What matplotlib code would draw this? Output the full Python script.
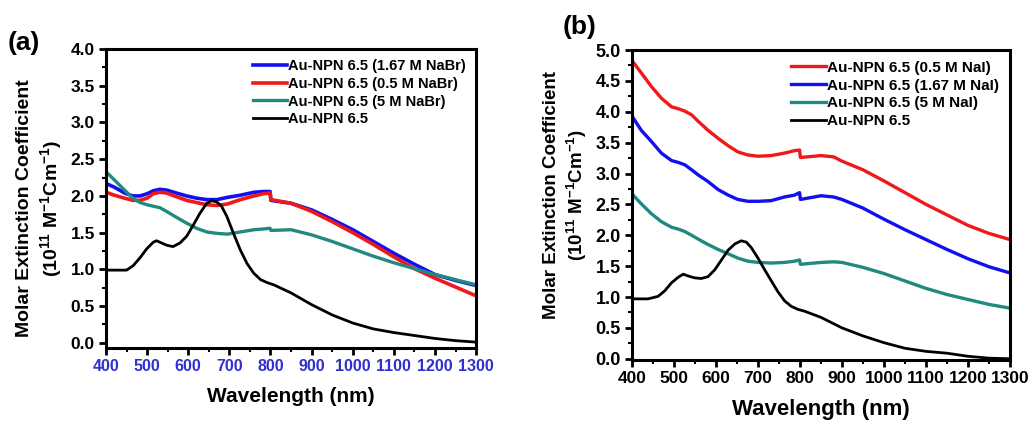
import matplotlib
matplotlib.use("Agg")
import matplotlib.pyplot as plt
from matplotlib.ticker import MultipleLocator

plt.rcParams['font.family'] = ['Liberation Sans', 'DejaVu Sans']
plt.rcParams['font.weight'] = 'bold'
plt.rcParams['axes.labelweight'] = 'bold'
plt.rcParams['mathtext.fontset'] = 'custom'
plt.rcParams['mathtext.bf'] = 'Liberation Sans:bold'
plt.rcParams['mathtext.rm'] = 'Liberation Sans:bold'
plt.rcParams['mathtext.default'] = 'bf'

# ---- panel (a): NaBr ----
wl_a = [400, 420, 445, 465, 483, 500, 515, 531, 547, 571, 596, 620, 645, 670, 695, 727, 760,
        783, 799, 801, 850, 900, 950, 1000, 1050, 1100, 1150, 1200, 1250, 1300]
a_blue = [2.17, 2.12, 2.04, 2.00, 2.00, 2.03, 2.07, 2.09, 2.08, 2.04, 2.00, 1.97, 1.95, 1.95,
          1.98, 2.01, 2.05, 2.06, 2.06, 1.94, 1.90, 1.81, 1.68, 1.54, 1.38, 1.22, 1.07, 0.93,
          0.85, 0.78]
a_red = [2.05, 2.01, 1.97, 1.94, 1.94, 1.97, 2.03, 2.05, 2.04, 1.99, 1.94, 1.91, 1.88, 1.87,
         1.89, 1.95, 2.00, 2.03, 2.04, 1.95, 1.90, 1.79, 1.65, 1.50, 1.34, 1.17, 1.01, 0.88,
         0.76, 0.64]
a_teal = [2.33, 2.22, 2.08, 1.97, 1.91, 1.88, 1.86, 1.84, 1.79, 1.71, 1.63, 1.56, 1.51, 1.49,
          1.48, 1.51, 1.54, 1.55, 1.56, 1.53, 1.54, 1.47, 1.38, 1.28, 1.18, 1.09, 1.01, 0.93,
          0.86, 0.79]

wl_a_blk = [400, 450, 466, 483, 499, 515, 523, 535, 547, 563, 580, 596, 612, 628, 645, 657, 669,
            681, 694, 710, 727, 743, 759, 776, 792, 808, 850, 900, 950, 1000, 1050, 1100, 1150,
            1200, 1250, 1300]
a_black = [0.99, 0.99, 1.05, 1.16, 1.28, 1.37, 1.39, 1.36, 1.33, 1.31, 1.36, 1.45, 1.60, 1.76,
           1.90, 1.935, 1.92, 1.86, 1.72, 1.49, 1.26, 1.08, 0.95, 0.86, 0.82, 0.79, 0.68, 0.52,
           0.38, 0.27, 0.19, 0.14, 0.10, 0.06, 0.03, 0.01]

# ---- panel (b): NaI ----
wl_b = [400, 422, 446, 470, 494, 510, 526, 542, 557, 581, 605, 629, 652, 676, 700, 731, 763,
        787, 799, 801, 850, 880, 900, 950, 1000, 1050, 1100, 1150, 1200, 1250, 1300]
b_red = [4.83, 4.63, 4.41, 4.22, 4.08, 4.05, 4.01, 3.95, 3.85, 3.70, 3.57, 3.45, 3.35, 3.30,
         3.28, 3.29, 3.33, 3.37, 3.38, 3.26, 3.29, 3.27, 3.20, 3.06, 2.88, 2.69, 2.50, 2.33,
         2.16, 2.03, 1.93]
b_blue = [3.93, 3.70, 3.52, 3.33, 3.21, 3.18, 3.14, 3.06, 2.98, 2.87, 2.74, 2.65, 2.58, 2.55,
          2.55, 2.56, 2.62, 2.65, 2.69, 2.58, 2.64, 2.62, 2.58, 2.44, 2.26, 2.09, 1.93, 1.77,
          1.62, 1.49, 1.39]
b_teal = [2.67, 2.51, 2.35, 2.22, 2.13, 2.10, 2.06, 2.00, 1.94, 1.85, 1.77, 1.70, 1.63, 1.58,
          1.56, 1.55, 1.56, 1.58, 1.60, 1.53, 1.56, 1.57, 1.56, 1.48, 1.38, 1.26, 1.14, 1.04,
          0.96, 0.88, 0.82]

wl_b_blk = [400, 438, 462, 478, 494, 510, 522, 534, 549, 565, 581, 597, 613, 629, 645, 660, 672,
            684, 700, 716, 731, 747, 763, 779, 795, 811, 850, 900, 950, 1000, 1050, 1100, 1150,
            1200, 1250, 1300]
b_black = [0.97, 0.97, 1.01, 1.10, 1.23, 1.32, 1.37, 1.34, 1.31, 1.30, 1.33, 1.44, 1.60, 1.76,
           1.86, 1.91, 1.89, 1.80, 1.63, 1.44, 1.27, 1.09, 0.94, 0.85, 0.80, 0.77, 0.67, 0.50,
           0.37, 0.26, 0.17, 0.12, 0.09, 0.04, 0.01, 0.00]

BLUE = '#1010f0'
RED = '#f01818'
TEAL = '#218a80'

fig = plt.figure(figsize=(10.31, 4.21), dpi=100)
ax1 = fig.add_axes([0.1028, 0.1734, 0.359, 0.7102])
ax2 = fig.add_axes([0.613, 0.1449, 0.3666, 0.7363])


def style(ax, ymax, ymin, xcolor, fs_x, fs_y, fs_xlabel):
    ax.set_xlim(400, 1300)
    ax.set_ylim(ymin, ymax)
    ax.xaxis.set_major_locator(MultipleLocator(100))
    ax.xaxis.set_minor_locator(MultipleLocator(50))
    ax.yaxis.set_major_locator(MultipleLocator(0.5))
    ax.yaxis.set_minor_locator(MultipleLocator(0.25))
    ax.tick_params(which='major', direction='out', length=5, width=2, pad=3)
    ax.tick_params(which='minor', direction='out', length=3, width=1.5)
    ax.tick_params(axis='x', labelcolor=xcolor, labelsize=fs_x)
    ax.tick_params(axis='y', labelsize=fs_y)
    ax.tick_params(top=False, right=False, which='both')
    for s in ax.spines.values():
        s.set_linewidth(2.2)
    ax.yaxis.set_major_formatter(plt.FuncFormatter(lambda v, p: f"{v:.1f}"))
    ax.set_xlabel('Wavelength (nm)', fontsize=fs_xlabel, labelpad=9)


ax1.plot(wl_a, a_blue, color=BLUE, lw=2.6, label='Au-NPN 6.5 (1.67 M NaBr)')
ax1.plot(wl_a, a_red, color=RED, lw=2.6, label='Au-NPN 6.5 (0.5 M NaBr)')
ax1.plot(wl_a, a_teal, color=TEAL, lw=2.4, label='Au-NPN 6.5 (5 M NaBr)')
ax1.plot(wl_a_blk, a_black, color='black', lw=2.0, label='Au-NPN 6.5')
style(ax1, 4.0, -0.07, '#3030d0', 11.5, 12.5, 15)
ax1.legend(loc='upper right', bbox_to_anchor=(1.0, 1.0), frameon=False, fontsize=10.5,
           handlelength=2.3, handletextpad=0.1, labelspacing=0.25, borderaxespad=0.3)

ax2.plot(wl_b, b_red, color=RED, lw=2.4, label='Au-NPN 6.5 (0.5 M NaI)')
ax2.plot(wl_b, b_blue, color=BLUE, lw=2.4, label='Au-NPN 6.5 (1.67 M NaI)')
ax2.plot(wl_b, b_teal, color=TEAL, lw=2.4, label='Au-NPN 6.5 (5 M NaI)')
ax2.plot(wl_b_blk, b_black, color='black', lw=2.0, label='Au-NPN 6.5')
style(ax2, 5.0, -0.02, 'black', 12.5, 13, 16)
ax2.legend(loc='upper right', bbox_to_anchor=(1.0, 1.0), frameon=False, fontsize=11,
           handlelength=2.3, handletextpad=0.1, labelspacing=0.25, borderaxespad=0.3)

ylab = 'Molar Extinction Coefficient\n(10$^{11}$ M$^{-1}$Cm$^{-1}$)'
fig.text(40 / 1031, 0.505, ylab, rotation=90, ha='center', va='center',
         multialignment='center', fontsize=14, linespacing=1.3)
fig.text(566 / 1031, 0.537, ylab, rotation=90, ha='center', va='center',
         multialignment='center', fontsize=13.5, linespacing=1.3)

fig.text(8 / 1031, 1 - 43 / 421, '(a)', fontsize=19, ha='left', va='center')
fig.text(563 / 1031, 1 - 27 / 421, '(b)', fontsize=19, ha='left', va='center')

fig.savefig('out.png', dpi=100)
